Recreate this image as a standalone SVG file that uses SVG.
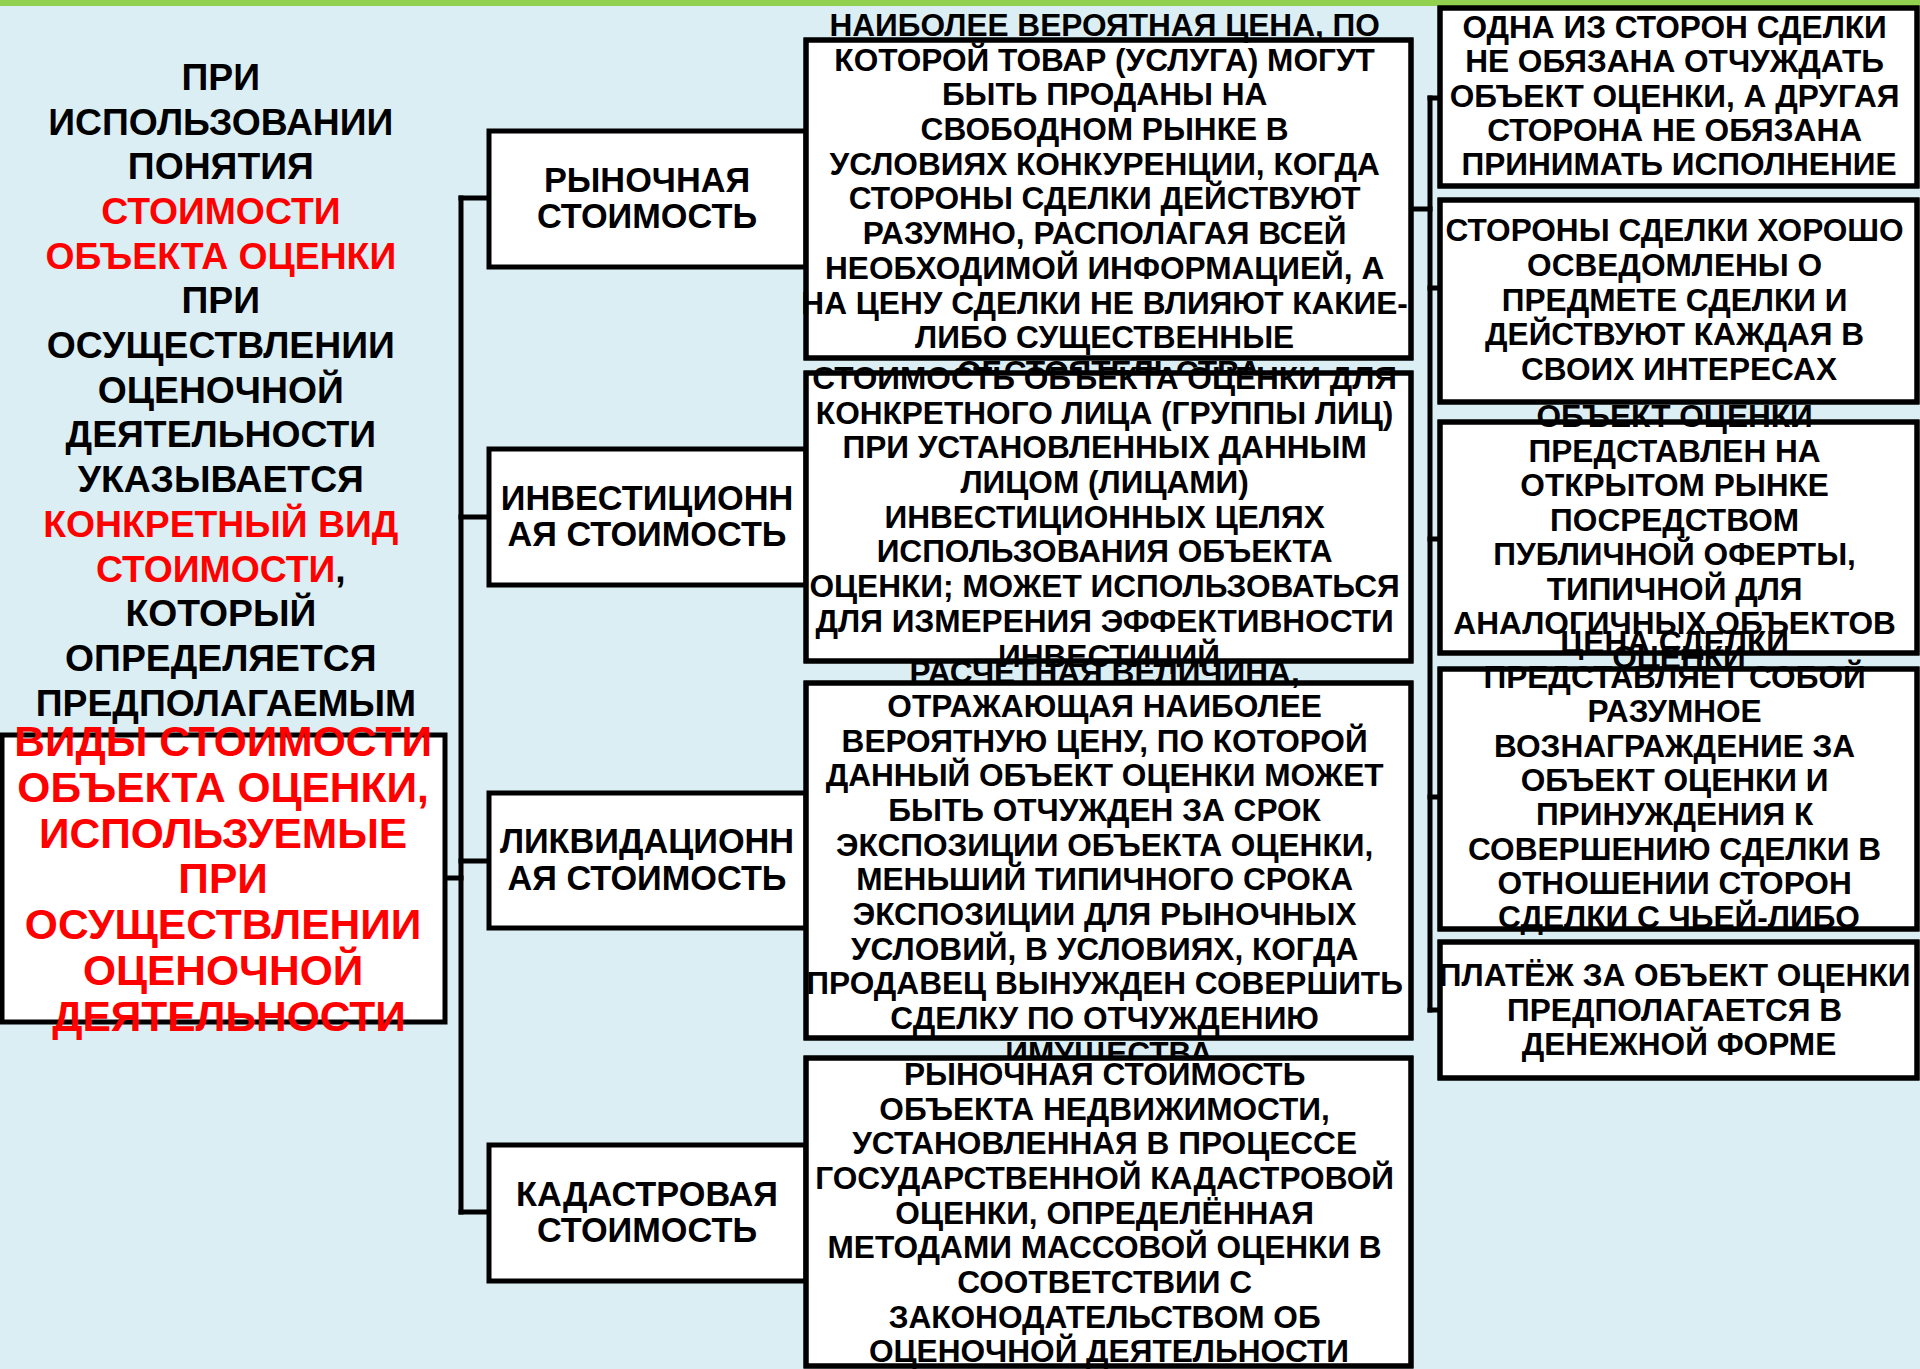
<svg xmlns="http://www.w3.org/2000/svg" width="1920" height="1369" viewBox="0 0 1920 1369">
<defs>
<style>
.bg{fill:#DAEEF3}
.box{fill:#FFFFFF;stroke:#000000;stroke-width:5}
.edge{fill:none;stroke:#000000;stroke-width:5}
.ln{fill:none;stroke:#000000;stroke-width:5;stroke-linecap:square}
text{font-family:"Liberation Sans",Arial,sans-serif;font-weight:bold;text-anchor:middle;fill:#000000}
.lt{font-size:37.3px}
.rt{font-size:42.5px;fill:#FF0000}
.ct{font-size:34.3px}
.dt{font-size:31.6px}
.qt{font-size:31.6px}
.red{fill:#FF0000}
</style>
</defs>
<rect class="bg" x="0" y="0" width="1920" height="1369"/>
<rect x="0" y="0" width="1920" height="6" fill="#92D050"/>

<g id="intro">
<text class="lt">
<tspan x="226" y="90">ПРИ</tspan>
<tspan x="226" y="135">ИСПОЛЬЗОВАНИИ</tspan>
<tspan x="226" y="179">ПОНЯТИЯ</tspan>
<tspan x="226" y="224" class="red">СТОИМОСТИ</tspan>
<tspan x="226" y="269" class="red">ОБЪЕКТА ОЦЕНКИ</tspan>
<tspan x="226" y="313">ПРИ</tspan>
<tspan x="226" y="358">ОСУЩЕСТВЛЕНИИ</tspan>
<tspan x="226" y="403">ОЦЕНОЧНОЙ</tspan>
<tspan x="226" y="447">ДЕЯТЕЛЬНОСТИ</tspan>
<tspan x="226" y="492">УКАЗЫВАЕТСЯ</tspan>
<tspan x="226" y="537" class="red">КОНКРЕТНЫЙ ВИД</tspan>
<tspan x="226" y="582"><tspan class="red">СТОИМОСТИ</tspan>,</tspan>
<tspan x="226" y="626">КОТОРЫЙ</tspan>
<tspan x="226" y="671">ОПРЕДЕЛЯЕТСЯ</tspan>
<tspan x="226" y="716">ПРЕДПОЛАГАЕМЫМ</tspan>
</text>
</g>

<g id="connectors">
<path class="ln" d="M461 198 V1212"/>
<path class="ln" d="M461 198 H489"/>
<path class="ln" d="M461 517 H489"/>
<path class="ln" d="M461 861 H489"/>
<path class="ln" d="M461 1212 H489"/>
<path class="ln" d="M445 878 H461"/>
<path class="ln" d="M1430 98 V1010"/>
<path class="ln" d="M1411 209 H1430"/>
<path class="ln" d="M1430 98 H1440"/>
<path class="ln" d="M1430 288 H1440"/>
<path class="ln" d="M1430 539 H1440"/>
<path class="ln" d="M1430 797 H1440"/>
<path class="ln" d="M1430 1010 H1440"/>
</g>

<g id="root">
<rect class="box" x="2" y="735" width="443" height="287"/>
<text class="rt">
<tspan x="229" y="756">ВИДЫ СТОИМОСТИ</tspan>
<tspan x="229" y="802">ОБЪЕКТА ОЦЕНКИ,</tspan>
<tspan x="229" y="848">ИСПОЛЬЗУЕМЫЕ</tspan>
<tspan x="229" y="893">ПРИ</tspan>
<tspan x="229" y="939">ОСУЩЕСТВЛЕНИИ</tspan>
<tspan x="229" y="985">ОЦЕНОЧНОЙ</tspan>
<tspan x="229" y="1031">ДЕЯТЕЛЬНОСТИ</tspan>
</text>
</g>

<g id="market">
<rect class="box" x="489" y="131" width="317" height="136"/>
<text class="ct"><tspan x="647" y="192">РЫНОЧНАЯ</tspan><tspan x="647" y="228">СТОИМОСТЬ</tspan></text>
</g>
<g id="investment">
<rect class="box" x="489" y="449" width="317" height="136"/>
<text class="ct"><tspan x="647" y="510">ИНВЕСТИЦИОНН</tspan><tspan x="647" y="546">АЯ СТОИМОСТЬ</tspan></text>
</g>
<g id="liquidation">
<rect class="box" x="489" y="793" width="317" height="135"/>
<text class="ct"><tspan x="647" y="853">ЛИКВИДАЦИОНН</tspan><tspan x="647" y="890">АЯ СТОИМОСТЬ</tspan></text>
</g>
<g id="cadastral">
<rect class="box" x="489" y="1145" width="317" height="136"/>
<text class="ct"><tspan x="647" y="1206">КАДАСТРОВАЯ</tspan><tspan x="647" y="1242">СТОИМОСТЬ</tspan></text>
</g>

<g id="market-def">
<rect class="box" x="806" y="40" width="605" height="318"/>
<text class="dt">
<tspan x="1109" y="36">НАИБОЛЕЕ ВЕРОЯТНАЯ ЦЕНА, ПО</tspan>
<tspan x="1109" y="71">КОТОРОЙ ТОВАР (УСЛУГА) МОГУТ</tspan>
<tspan x="1109" y="105">БЫТЬ ПРОДАНЫ НА</tspan>
<tspan x="1109" y="140">СВОБОДНОМ РЫНКЕ В</tspan>
<tspan x="1109" y="175">УСЛОВИЯХ КОНКУРЕНЦИИ, КОГДА</tspan>
<tspan x="1109" y="209">СТОРОНЫ СДЕЛКИ ДЕЙСТВУЮТ</tspan>
<tspan x="1109" y="244">РАЗУМНО, РАСПОЛАГАЯ ВСЕЙ</tspan>
<tspan x="1109" y="279">НЕОБХОДИМОЙ ИНФОРМАЦИЕЙ, А</tspan>
<tspan x="1109" y="314">НА ЦЕНУ СДЕЛКИ НЕ ВЛИЯЮТ КАКИЕ-</tspan>
<tspan x="1109" y="348">ЛИБО СУЩЕСТВЕННЫЕ</tspan>
<tspan x="1109" y="383">ОБСТОЯТЕЛЬСТВА</tspan>
</text>
<rect class="edge" x="806" y="40" width="605" height="318"/>
</g>

<g id="investment-def">
<rect class="box" x="806" y="373" width="605" height="288"/>
<text class="dt">
<tspan x="1109" y="389">СТОИМОСТЬ ОБЪЕКТА ОЦЕНКИ ДЛЯ</tspan>
<tspan x="1109" y="424">КОНКРЕТНОГО ЛИЦА (ГРУППЫ ЛИЦ)</tspan>
<tspan x="1109" y="458">ПРИ УСТАНОВЛЕННЫХ ДАННЫМ</tspan>
<tspan x="1109" y="493">ЛИЦОМ (ЛИЦАМИ)</tspan>
<tspan x="1109" y="528">ИНВЕСТИЦИОННЫХ ЦЕЛЯХ</tspan>
<tspan x="1109" y="562">ИСПОЛЬЗОВАНИЯ ОБЪЕКТА</tspan>
<tspan x="1109" y="597">ОЦЕНКИ; МОЖЕТ ИСПОЛЬЗОВАТЬСЯ</tspan>
<tspan x="1109" y="632">ДЛЯ ИЗМЕРЕНИЯ ЭФФЕКТИВНОСТИ</tspan>
<tspan x="1109" y="667">ИНВЕСТИЦИЙ</tspan>
</text>
<rect class="edge" x="806" y="373" width="605" height="288"/>
</g>

<g id="liquidation-def">
<rect class="box" x="806" y="683" width="605" height="355"/>
<text class="dt">
<tspan x="1109" y="683">РАСЧЕТНАЯ ВЕЛИЧИНА,</tspan>
<tspan x="1109" y="717">ОТРАЖАЮЩАЯ НАИБОЛЕЕ</tspan>
<tspan x="1109" y="752">ВЕРОЯТНУЮ ЦЕНУ, ПО КОТОРОЙ</tspan>
<tspan x="1109" y="786">ДАННЫЙ ОБЪЕКТ ОЦЕНКИ МОЖЕТ</tspan>
<tspan x="1109" y="821">БЫТЬ ОТЧУЖДЕН ЗА СРОК</tspan>
<tspan x="1109" y="856">ЭКСПОЗИЦИИ ОБЪЕКТА ОЦЕНКИ,</tspan>
<tspan x="1109" y="890">МЕНЬШИЙ ТИПИЧНОГО СРОКА</tspan>
<tspan x="1109" y="925">ЭКСПОЗИЦИИ ДЛЯ РЫНОЧНЫХ</tspan>
<tspan x="1109" y="960">УСЛОВИЙ, В УСЛОВИЯХ, КОГДА</tspan>
<tspan x="1109" y="994">ПРОДАВЕЦ ВЫНУЖДЕН СОВЕРШИТЬ</tspan>
<tspan x="1109" y="1029">СДЕЛКУ ПО ОТЧУЖДЕНИЮ</tspan>
<tspan x="1109" y="1064">ИМУЩЕСТВА</tspan>
</text>
<rect class="edge" x="806" y="683" width="605" height="355"/>
</g>

<g id="cadastral-def">
<rect class="box" x="806" y="1058" width="605" height="308"/>
<text class="dt">
<tspan x="1109" y="1085">РЫНОЧНАЯ СТОИМОСТЬ</tspan>
<tspan x="1109" y="1120">ОБЪЕКТА НЕДВИЖИМОСТИ,</tspan>
<tspan x="1109" y="1154">УСТАНОВЛЕННАЯ В ПРОЦЕССЕ</tspan>
<tspan x="1109" y="1189">ГОСУДАРСТВЕННОЙ КАДАСТРОВОЙ</tspan>
<tspan x="1109" y="1224">ОЦЕНКИ, ОПРЕДЕЛЁННАЯ</tspan>
<tspan x="1109" y="1258">МЕТОДАМИ МАССОВОЙ ОЦЕНКИ В</tspan>
<tspan x="1109" y="1293">СООТВЕТСТВИИ С</tspan>
<tspan x="1109" y="1328">ЗАКОНОДАТЕЛЬСТВОМ ОБ</tspan>
<tspan x="1109" y="1362">ОЦЕНОЧНОЙ ДЕЯТЕЛЬНОСТИ</tspan>
</text>
<rect class="edge" x="806" y="1058" width="605" height="308"/>
</g>

<g id="cond1">
<rect class="box" x="1440" y="8" width="477" height="178"/>
<text class="qt">
<tspan x="1679" y="38">ОДНА ИЗ СТОРОН СДЕЛКИ</tspan>
<tspan x="1679" y="72">НЕ ОБЯЗАНА ОТЧУЖДАТЬ</tspan>
<tspan x="1679" y="107">ОБЪЕКТ ОЦЕНКИ, А ДРУГАЯ</tspan>
<tspan x="1679" y="141">СТОРОНА НЕ ОБЯЗАНА</tspan>
<tspan x="1679" y="175">ПРИНИМАТЬ ИСПОЛНЕНИЕ</tspan>
</text>
<rect class="edge" x="1440" y="8" width="477" height="178"/>
</g>

<g id="cond2">
<rect class="box" x="1440" y="200" width="477" height="202"/>
<text class="qt">
<tspan x="1679" y="241">СТОРОНЫ СДЕЛКИ ХОРОШО</tspan>
<tspan x="1679" y="276">ОСВЕДОМЛЕНЫ О</tspan>
<tspan x="1679" y="311">ПРЕДМЕТЕ СДЕЛКИ И</tspan>
<tspan x="1679" y="345">ДЕЙСТВУЮТ КАЖДАЯ В</tspan>
<tspan x="1679" y="380">СВОИХ ИНТЕРЕСАХ</tspan>
</text>
<rect class="edge" x="1440" y="200" width="477" height="202"/>
</g>

<g id="cond3">
<rect class="box" x="1440" y="422" width="477" height="231"/>
<text class="qt">
<tspan x="1679" y="427">ОБЪЕКТ ОЦЕНКИ</tspan>
<tspan x="1679" y="462">ПРЕДСТАВЛЕН НА</tspan>
<tspan x="1679" y="496">ОТКРЫТОМ РЫНКЕ</tspan>
<tspan x="1679" y="531">ПОСРЕДСТВОМ</tspan>
<tspan x="1679" y="565">ПУБЛИЧНОЙ ОФЕРТЫ,</tspan>
<tspan x="1679" y="600">ТИПИЧНОЙ ДЛЯ</tspan>
<tspan x="1679" y="634">АНАЛОГИЧНЫХ ОБЪЕКТОВ</tspan>
<tspan x="1679" y="668">ОЦЕНКИ</tspan>
</text>
<rect class="edge" x="1440" y="422" width="477" height="231"/>
</g>

<g id="cond4">
<rect class="box" x="1440" y="669" width="477" height="260"/>
<text class="qt">
<tspan x="1679" y="653">ЦЕНА СДЕЛКИ</tspan>
<tspan x="1679" y="688">ПРЕДСТАВЛЯЕТ СОБОЙ</tspan>
<tspan x="1679" y="722">РАЗУМНОЕ</tspan>
<tspan x="1679" y="757">ВОЗНАГРАЖДЕНИЕ ЗА</tspan>
<tspan x="1679" y="791">ОБЪЕКТ ОЦЕНКИ И</tspan>
<tspan x="1679" y="825">ПРИНУЖДЕНИЯ К</tspan>
<tspan x="1679" y="860">СОВЕРШЕНИЮ СДЕЛКИ В</tspan>
<tspan x="1679" y="894">ОТНОШЕНИИ СТОРОН</tspan>
<tspan x="1679" y="928">СДЕЛКИ С ЧЬЕЙ-ЛИБО</tspan>
</text>
<rect class="edge" x="1440" y="669" width="477" height="260"/>
</g>

<g id="cond5">
<rect class="box" x="1440" y="942" width="477" height="136"/>
<text class="qt">
<tspan x="1679" y="986">ПЛАТЁЖ ЗА ОБЪЕКТ ОЦЕНКИ</tspan>
<tspan x="1679" y="1021">ПРЕДПОЛАГАЕТСЯ В</tspan>
<tspan x="1679" y="1055">ДЕНЕЖНОЙ ФОРМЕ</tspan>
</text>
<rect class="edge" x="1440" y="942" width="477" height="136"/>
</g>
</svg>
